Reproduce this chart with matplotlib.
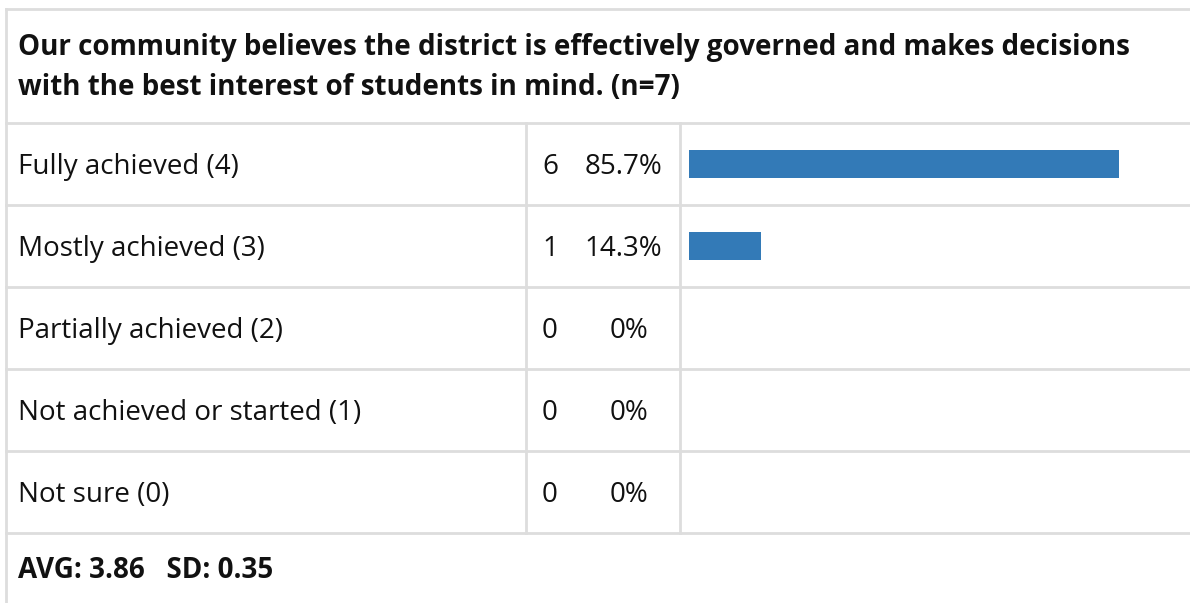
import matplotlib
matplotlib.use("Agg")
import matplotlib.pyplot as plt

# survey item
title_lines = ["Our community believes the district is effectively governed and makes decisions",
               "with the best interest of students in mind. (n=7)"]
categories = ["Fully achieved (4)", "Mostly achieved (3)", "Partially achieved (2)",
              "Not achieved or started (1)", "Not sure (0)"]
counts = [6, 1, 0, 0, 0]
n_total = 7
avg_value = 3.86
sd_value = 0.35

percents = [100.0 * c / n_total for c in counts]

W, H = 1190, 603
line_col = "#dddddd"
text_col = "#111111"
bar_col = "#337ab7"
fs = 20
plt.rcParams["font.family"] = ["Open Sans", "DejaVu Sans"]

fig = plt.figure(figsize=(W / 100, H / 100), dpi=100)
ax = fig.add_axes([0, 0, 1, 1])
ax.set_xlim(0, W)
ax.set_ylim(H, 0)
ax.axis("off")

#table geometry (pixels)
left, top = 6, 9
head_bottom = 123
row_h = 82
col1, col2 = 526, 680
bar_x0, bar_full = 689, 502
rows_bottom = head_bottom + row_h * len(categories)

#outer border and header rule
ax.plot([left, left], [top, H + 5], color=line_col, lw=2)
ax.plot([left, W + 5], [top, top], color=line_col, lw=2)
for i in range(len(categories) + 1):
    y = head_bottom + i * row_h
    ax.plot([left, W + 5], [y, y], color=line_col, lw=2)
for x in (col1, col2):
    ax.plot([x, x], [head_bottom, rows_bottom], color=line_col, lw=2)

#title
ax.text(18, 55, title_lines[0], fontsize=fs, fontweight="bold", color=text_col, va="baseline")
ax.text(18, 95, title_lines[1], fontsize=fs, fontweight="bold", color=text_col, va="baseline")

#rows (baseline sits half a cap height below the row centre)
for i, (cat, c, p) in enumerate(zip(categories, counts, percents)):
    yb = head_bottom + i * row_h + row_h / 2 + 10
    ax.text(18, yb, cat, fontsize=fs, color=text_col, va="baseline")
    ax.text(550, yb, str(c), fontsize=fs, color=text_col, va="baseline", ha="center")
    if c:
        ax.text(662, yb, "%.1f%%" % p, fontsize=fs, color=text_col, va="baseline", ha="right")
    else:
        ax.text(648, yb, "0%", fontsize=fs, color=text_col, va="baseline", ha="right")

#summary row
ax.text(18, rows_bottom + 45, "AVG: %.2f   SD: %.2f" % (avg_value, sd_value),
        fontsize=fs, fontweight="bold", color=text_col, va="baseline")

#bar column
bax = fig.add_axes([bar_x0 / W, 1 - rows_bottom / H, bar_full / W, (rows_bottom - head_bottom) / H])
bax.barh(range(len(categories)), percents, height=28 / row_h, color=bar_col)
bax.set_xlim(0, 100)
bax.set_ylim(len(categories) - 0.5, -0.5)
bax.axis("off")

fig.savefig("out.png", dpi=100)
